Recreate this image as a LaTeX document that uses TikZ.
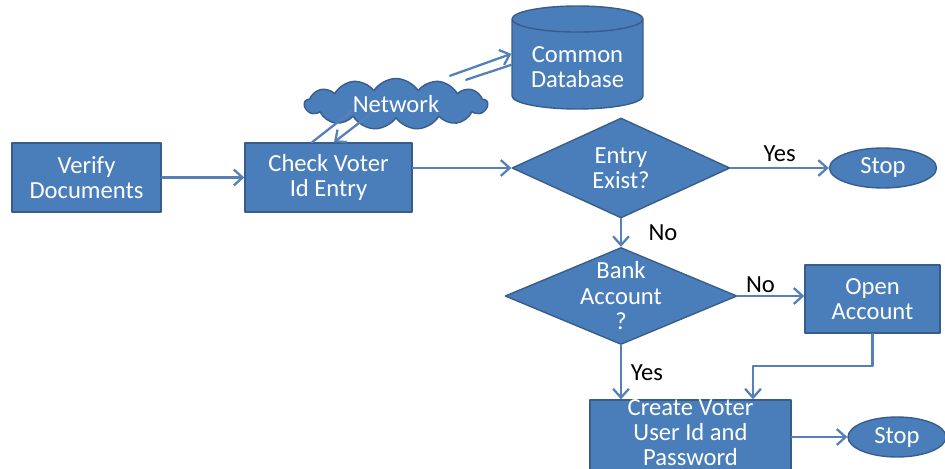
\documentclass[tikz,border=0pt]{standalone}
\usepackage{fontspec}
\setmainfont{Carlito}
\usetikzlibrary{arrows.meta}
\usetikzlibrary{shapes.geometric}
\usetikzlibrary{shapes.symbols}
\usetikzlibrary{calc}
\definecolor{boxblue}{HTML}{4A7EBB}
\definecolor{boxline}{HTML}{385D8A}
\definecolor{arrowblue}{HTML}{5580B8}

\begin{document}
\begin{tikzpicture}[line cap=round,line join=round,>={Straight Barb[length=5pt,width=9pt]},x=0.02cm,y=-0.02cm,
  box/.style={draw=boxline,fill=boxblue,text=white,line width=0.8pt,align=center,inner sep=0pt,font=\fontsize{14}{14.5}\selectfont},
  decision/.style={box,diamond,inner sep=-6mm},
  stopnode/.style={box,ellipse},
  flow/.style={->,draw=arrowblue,line width=1.3pt},
  lbl/.style={font=\fontsize{14}{14.5}\selectfont,text=black,inner sep=1pt}]
\useasboundingbox (0,0) rectangle (945,469);
\clip (0,0) rectangle (945,469);
% shapes
\node[box,minimum width=2.98cm,minimum height=1.38cm] (verify) at (86.5,177.5) {Verify\\Documents};
\node[box,minimum width=3.34cm,minimum height=1.38cm] (check) at (328.5,177.5) {Check Voter\\Id Entry};
\node[box,cloud,cloud puffs=13,cloud puff arc=115,aspect=3.6,minimum width=3.66cm,minimum height=1.02cm] (net) at (396,104) {Network};
\node[box,cylinder,shape border rotate=90,aspect=0.28,minimum width=2.62cm,minimum height=2.06cm,text height=27pt,anchor=shape center] (db) at (577.5,57.5) {Common\\Database};
\node[decision,minimum width=4.36cm,minimum height=2cm] (entry) at (621,168) {Entry\\Exist?};
\node[stopnode,minimum width=2.14cm,minimum height=0.8cm] (stopa) at (883,168) {Stop};
\node[decision,minimum width=4.64cm,minimum height=1.94cm] (bank) at (621,296) {Bank\\Account\\?};
\node[box,minimum width=2.7cm,minimum height=1.36cm] (open) at (872.5,299) {Open\\Account};
\node[box,minimum width=4.02cm,minimum height=1.48cm,text depth=5pt,font=\fontsize{14}{14}\selectfont] (create) at (690.5,437) {Create Voter\\User Id and\\Password};
\node[stopnode,minimum width=1.96cm,minimum height=0.8cm] (stopb) at (897,437) {Stop};
% network links
\draw [draw=arrowblue,line width=1.3pt] ($(check.north)+(-16.5,0)$) -- ($(net.south)+(-44,-8)$);
\draw [flow] ($(net.south)+(-24,-6)$) -- ($(check.north)+(5.5,0)$);
\draw [flow] ($(net.north)+(54,-2)$) -- ($(db.west)+(0,-10.5)$);
\draw [draw=arrowblue,line width=1.3pt] ($(db.west)+(0,0.5)$) -- ($(net.north)+(70,2)$);
% flow
\draw [flow] (verify) -- (check);
\draw [flow] (check.east |- entry.west) -- (entry.west);
\draw [flow] (entry.east) -- node[lbl,above,yshift=2pt] (yesa) {Yes} (stopa.west);
\draw [flow] (entry.south) -- node[lbl,right,xshift=14pt] (noa) {No} (bank.north);
\draw [flow] (bank.east) -- node[lbl,above,xshift=-6pt] (nob) {No} (bank.east -| open.west);
\draw [flow] (bank.south) -- node[lbl,right,xshift=4pt] (yesb) {Yes} (bank.south |- create.north);
\draw [flow] (open.south) -- ++(0,32) -| ($(create.north)+(62.5,0)$);
\draw [flow] (create.east) -- (stopb.west);
\end{tikzpicture}
\end{document}
